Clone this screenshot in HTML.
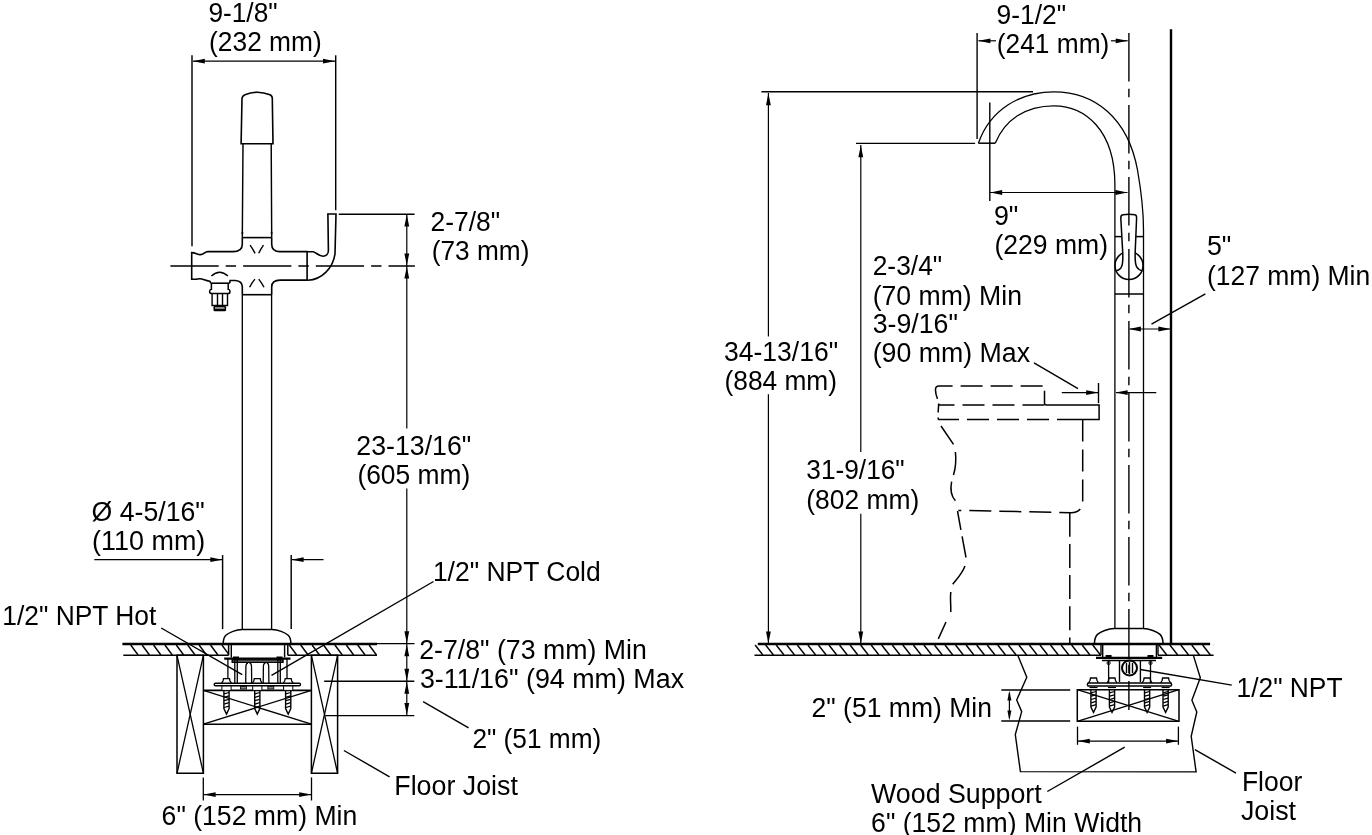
<!DOCTYPE html>
<html><head><meta charset="utf-8"><style>
html,body{margin:0;padding:0;background:#fff;width:1372px;height:835px;overflow:hidden}
svg{display:block}
text{font-family:"Liberation Sans",sans-serif;font-size:26.8px;fill:#000}
svg{will-change:transform}
line,polyline,polygon,path,circle,ellipse,rect{stroke:#000;fill:none}
.f{fill:#000;stroke:none}
</style></head><body>
<svg width="1372" height="835" viewBox="0 0 1372 835">
<line x1="192.00" y1="55.30" x2="192.00" y2="246.30" stroke-width="1.45" />
<line x1="335.70" y1="55.30" x2="335.70" y2="210.20" stroke-width="1.45" />
<line x1="193.00" y1="61.20" x2="335.00" y2="61.20" stroke-width="1.2" />
<polygon class="f" points="192.80,61.20 204.80,58.80 204.80,63.60"/>
<polygon class="f" points="335.00,61.20 323.00,63.60 323.00,58.80"/>
<text x="208.40" y="22.30" textLength="69.19" lengthAdjust="spacingAndGlyphs">9-1/8&quot;</text>
<text x="209.10" y="51.00" textLength="112.63" lengthAdjust="spacingAndGlyphs">(232 mm)</text>
<path d="M241.1,143.7 L242,98.5 Q242.3,95.8 245,94.8 Q257.5,89.6 270,94.8 Q272.3,95.8 272.3,98.5 L273,143.7 Z" stroke-width="1.6" />
<path d="M243,143.7 L242.3,237.6 M271.2,143.7 L271.7,237.6" stroke-width="1.45" />
<line x1="242.30" y1="237.60" x2="271.70" y2="237.60" stroke-width="1.6" />
<ellipse class="f" cx="242.4" cy="233" rx="0.9" ry="1.8"/>
<ellipse class="f" cx="271.6" cy="233" rx="0.9" ry="1.8"/>
<path d="M242.3,237.6 L242.3,244.2 Q242.3,251.6 233,251.6 L208,251.6 C204.5,251.6 204,254.5 200.5,254.6 C197,254.7 196,252.6 191.7,252.6 L191.7,279.3 L196,279.3 C198,278.6 200,278.5 202,279 C205,279.8 207,281 209.9,281.3 Q210.6,281.8 210.6,283.2 M229.7,283.2 L230.1,280.5 L235.4,280.5 Q242.3,281 242.3,287 L242.3,294.7" stroke-width="1.6" />
<path d="M271.7,237.6 L271.7,244.2 Q271.7,251.6 280,251.6 L307.1,251.6 L307.1,280.1 L280,280.1 Q271.7,280.1 271.7,287 L271.7,294.7" stroke-width="1.6" />
<line x1="242.30" y1="294.70" x2="271.70" y2="294.70" stroke-width="1.6" />
<path d="M307.1,251.7 L313.3,251.7 C316,252.5 319,256.2 323,256.2 C326,256.2 328.4,254 328.4,250.6 L327.9,214 L336,214 L335,253.9 C333,268 322,279.5 307.9,280.3" stroke-width="1.6" />
<path d="M250.1,245.1 Q252.5,248.5 255.1,253.3 M263.5,245.1 Q261,248.5 258.7,253.3 M249.6,287.3 Q252,282.5 254.9,279.1 M264,287.3 Q261.5,282.5 258.7,279.1" stroke-width="1.4" />
<path d="M210.6,283.2 L229.7,283.2" stroke-width="1.6" />
<path d="M211.4,283.2 L211.4,289.3 Q209.6,289.5 209.6,291.5 Q209.6,293.6 212,293.6 L228,293.6 Q230,293.6 230,291.5 Q230,289.5 228.2,289.3 L228.2,283.2" stroke-width="1.5" />
<path d="M212.1,293.6 L212.1,305.5 L227.5,305.5 L227.5,293.6 M217.5,293.6 L217.5,305.5 M222.5,293.6 L222.5,305.5" stroke-width="1.4" />
<rect class="f" x="213.5" y="306" width="12.6" height="5.2" rx="1.2"/>
<rect x="215" y="307.2" width="9.6" height="1.6" style="fill:#aaa;stroke:none"/>
<path d="M211.4,276 Q219.6,268.5 227.9,276" stroke-width="1.4" />
<line x1="170.40" y1="265.90" x2="414.90" y2="265.90" stroke-width="1.5" stroke-dasharray="48.3 7 10.4 7"/>
<line x1="242.30" y1="294.70" x2="242.30" y2="629.40" stroke-width="1.35" />
<line x1="271.60" y1="294.70" x2="271.60" y2="629.40" stroke-width="1.35" />
<path d="M242.3,629.4 L271.8,629.4 C278.1,629.6 285.1,632.5 288.2,635.3 C290.1,637.2 290.8,639.5 290.9,643.5 M242.3,629.4 C236,629.6 229,632.5 225.9,635.3 C224,637.2 223.3,639.5 223.2,643.5" stroke-width="1.5" />
<line x1="338.80" y1="214.30" x2="414.60" y2="214.30" stroke-width="1.45" />
<line x1="406.80" y1="214.30" x2="406.80" y2="266.00" stroke-width="1.2" />
<polygon class="f" points="406.80,214.60 409.20,226.60 404.40,226.60"/>
<polygon class="f" points="406.80,265.60 404.40,253.60 409.20,253.60"/>
<text x="430.50" y="231.10" textLength="69.59" lengthAdjust="spacingAndGlyphs">2-7/8&quot;</text>
<text x="431.80" y="260.20" textLength="97.57" lengthAdjust="spacingAndGlyphs">(73 mm)</text>
<line x1="406.80" y1="266.00" x2="406.80" y2="428.60" stroke-width="1.2" />
<line x1="406.80" y1="488.50" x2="406.80" y2="643.80" stroke-width="1.2" />
<polygon class="f" points="406.80,266.50 409.20,278.50 404.40,278.50"/>
<polygon class="f" points="406.80,643.30 404.40,631.30 409.20,631.30"/>
<text x="356.30" y="455.20" textLength="114.97" lengthAdjust="spacingAndGlyphs">23-13/16&quot;</text>
<text x="357.40" y="484.30" textLength="112.83" lengthAdjust="spacingAndGlyphs">(605 mm)</text>
<line x1="406.80" y1="643.80" x2="406.80" y2="715.50" stroke-width="1.2" />
<polygon class="f" points="406.80,644.30 409.20,656.30 404.40,656.30"/>
<polygon class="f" points="406.80,680.70 404.40,668.70 409.20,668.70"/>
<polygon class="f" points="406.80,681.70 409.20,693.70 404.40,693.70"/>
<polygon class="f" points="406.80,715.00 404.40,703.00 409.20,703.00"/>
<line x1="377.00" y1="643.60" x2="414.50" y2="643.60" stroke-width="1.4" />
<line x1="324.20" y1="681.20" x2="414.30" y2="681.20" stroke-width="1.4" />
<line x1="325.20" y1="715.60" x2="414.30" y2="715.60" stroke-width="1.4" />
<text x="419.20" y="658.80" textLength="227.60" lengthAdjust="spacingAndGlyphs">2-7/8&quot; (73 mm) Min</text>
<text x="419.90" y="687.90" textLength="264.22" lengthAdjust="spacingAndGlyphs">3-11/16&quot; (94 mm) Max</text>
<line x1="423.10" y1="701.60" x2="468.60" y2="727.80" stroke-width="1.4" />
<text x="472.40" y="747.90" textLength="128.89" lengthAdjust="spacingAndGlyphs">2&quot; (51 mm)</text>
<line x1="222.60" y1="555.10" x2="222.60" y2="629.10" stroke-width="1.45" />
<line x1="291.20" y1="555.10" x2="291.20" y2="629.10" stroke-width="1.45" />
<line x1="94.30" y1="559.70" x2="222.00" y2="559.70" stroke-width="1.2" />
<polygon class="f" points="222.30,559.70 210.30,562.10 210.30,557.30"/>
<line x1="291.60" y1="559.70" x2="323.50" y2="559.70" stroke-width="1.2" />
<polygon class="f" points="291.60,559.70 303.60,557.30 303.60,562.10"/>
<text x="91.60" y="521.20" textLength="113.20" lengthAdjust="spacingAndGlyphs">Ø 4-5/16&quot;</text>
<text x="92.10" y="549.60" textLength="113.20" lengthAdjust="spacingAndGlyphs">(110 mm)</text>
<text x="2.30" y="624.70" textLength="154.01" lengthAdjust="spacingAndGlyphs">1/2&quot; NPT Hot</text>
<line x1="161.20" y1="628.00" x2="242.20" y2="674.70" stroke-width="1.4" />
<text x="432.90" y="580.50" textLength="167.82" lengthAdjust="spacingAndGlyphs">1/2&quot; NPT Cold</text>
<line x1="433.50" y1="581.50" x2="271.50" y2="675.40" stroke-width="1.4" />
<line x1="122.40" y1="644.00" x2="377.00" y2="644.00" stroke-width="2.5" />
<line x1="123.30" y1="655.30" x2="228.60" y2="655.30" stroke-width="1.5" />
<line x1="287.80" y1="655.30" x2="377.00" y2="655.30" stroke-width="1.5" />
<line x1="228.60" y1="644.00" x2="228.60" y2="655.30" stroke-width="1.5" />
<line x1="287.80" y1="644.00" x2="287.80" y2="655.30" stroke-width="1.5" />
<line x1="130.70" y1="645.00" x2="138.10" y2="655.00" stroke-width="1.4" />
<line x1="142.10" y1="645.00" x2="149.50" y2="655.00" stroke-width="1.4" />
<line x1="153.50" y1="645.00" x2="160.90" y2="655.00" stroke-width="1.4" />
<line x1="164.90" y1="645.00" x2="172.30" y2="655.00" stroke-width="1.4" />
<line x1="176.30" y1="645.00" x2="183.70" y2="655.00" stroke-width="1.4" />
<line x1="187.70" y1="645.00" x2="195.10" y2="655.00" stroke-width="1.4" />
<line x1="199.10" y1="645.00" x2="206.50" y2="655.00" stroke-width="1.4" />
<line x1="210.50" y1="645.00" x2="217.90" y2="655.00" stroke-width="1.4" />
<line x1="221.90" y1="645.00" x2="228.60" y2="654.05" stroke-width="1.4" />
<line x1="289.30" y1="645.00" x2="296.70" y2="655.00" stroke-width="1.4" />
<line x1="300.70" y1="645.00" x2="308.10" y2="655.00" stroke-width="1.4" />
<line x1="312.10" y1="645.00" x2="319.50" y2="655.00" stroke-width="1.4" />
<line x1="323.50" y1="645.00" x2="330.90" y2="655.00" stroke-width="1.4" />
<line x1="334.90" y1="645.00" x2="342.30" y2="655.00" stroke-width="1.4" />
<line x1="346.30" y1="645.00" x2="353.70" y2="655.00" stroke-width="1.4" />
<line x1="357.70" y1="645.00" x2="365.10" y2="655.00" stroke-width="1.4" />
<line x1="369.10" y1="645.00" x2="376.50" y2="655.00" stroke-width="1.4" />
<polygon points="177.00,655.30 203.40,655.30 203.40,773.30 177.00,773.30" stroke-width="1.5" />
<line x1="177.00" y1="655.30" x2="203.40" y2="773.30" stroke-width="1.3" />
<line x1="203.40" y1="655.30" x2="177.00" y2="773.30" stroke-width="1.3" />
<polygon points="311.40,655.30 337.60,655.30 337.60,773.30 311.40,773.30" stroke-width="1.5" />
<line x1="311.40" y1="655.30" x2="337.60" y2="773.30" stroke-width="1.3" />
<line x1="337.60" y1="655.30" x2="311.40" y2="773.30" stroke-width="1.3" />
<line x1="203.40" y1="690.40" x2="311.40" y2="690.40" stroke-width="1.6" />
<line x1="203.40" y1="724.20" x2="311.40" y2="724.20" stroke-width="1.6" />
<line x1="203.40" y1="690.40" x2="311.40" y2="724.20" stroke-width="1.4" />
<line x1="203.40" y1="724.20" x2="311.40" y2="690.40" stroke-width="1.4" />
<line x1="231.30" y1="644.00" x2="231.30" y2="657.50" stroke-width="1.4" />
<line x1="284.60" y1="644.00" x2="284.60" y2="657.50" stroke-width="1.4" />
<line x1="224.20" y1="658.60" x2="290.50" y2="658.60" stroke-width="2.4" />
<rect class="f" x="231.5" y="659.2" width="52.2" height="3.8"/>
<rect x="233" y="660.6" width="49" height="1.0" style="fill:#999;stroke:none"/>
<line x1="234.80" y1="657.00" x2="234.80" y2="683.20" stroke-width="1.3" />
<line x1="237.30" y1="657.00" x2="237.30" y2="683.20" stroke-width="1.3" />
<line x1="277.80" y1="657.00" x2="277.80" y2="683.20" stroke-width="1.3" />
<line x1="280.30" y1="657.00" x2="280.30" y2="683.20" stroke-width="1.3" />
<rect class="f" x="233" y="656.5" width="6" height="3" />
<rect class="f" x="276.5" y="656.5" width="6" height="3" />
<line x1="227.90" y1="658.50" x2="227.90" y2="679.00" stroke-width="1.3" />
<line x1="287.00" y1="658.50" x2="287.00" y2="679.00" stroke-width="1.3" />
<path d="M245.7,683.2 L245.9,666 Q246.3,663 248,663 M251.7,683.2 L251.5,666 Q251.2,663 249.5,663 M263.2,683.2 L263.4,666 Q263.8,663 265.5,663 M268.9,683.2 L268.7,666 Q268.4,663 266.8,663" stroke-width="1.3" />
<path d="M215.5,683.2 L299.2,683.2 Q300.5,683.2 300.5,684.5 Q300.5,685.8 299.2,685.8 L215.5,685.8 Q214.2,685.8 214.2,684.5 Q214.2,683.2 215.5,683.2 Z" stroke-width="1.4" />
<path d="M221.5,683.2 L223.0,681 L223.5,678.6 L229.5,678.6 L230.0,681 L231.5,683.2" stroke-width="1.3" />
<path d="M223.9,690.5 L223.9,708.5 L226.5,714 L229.1,708.5 L229.1,690.5" stroke-width="1.4" />
<line x1="224.10" y1="693.90" x2="228.90" y2="692.50" stroke-width="1.2" />
<line x1="224.10" y1="697.30" x2="228.90" y2="695.90" stroke-width="1.2" />
<line x1="224.10" y1="700.70" x2="228.90" y2="699.30" stroke-width="1.2" />
<line x1="224.10" y1="704.10" x2="228.90" y2="702.70" stroke-width="1.2" />
<line x1="224.10" y1="707.50" x2="228.90" y2="706.10" stroke-width="1.2" />
<path d="M252.3,683.2 L253.8,681 L254.3,678.6 L260.3,678.6 L260.8,681 L262.3,683.2" stroke-width="1.3" />
<path d="M254.70000000000002,690.5 L254.70000000000002,708.5 L257.3,714 L259.90000000000003,708.5 L259.90000000000003,690.5" stroke-width="1.4" />
<line x1="254.90" y1="693.90" x2="259.70" y2="692.50" stroke-width="1.2" />
<line x1="254.90" y1="697.30" x2="259.70" y2="695.90" stroke-width="1.2" />
<line x1="254.90" y1="700.70" x2="259.70" y2="699.30" stroke-width="1.2" />
<line x1="254.90" y1="704.10" x2="259.70" y2="702.70" stroke-width="1.2" />
<line x1="254.90" y1="707.50" x2="259.70" y2="706.10" stroke-width="1.2" />
<path d="M283.2,683.2 L284.7,681 L285.2,678.6 L291.2,678.6 L291.7,681 L293.2,683.2" stroke-width="1.3" />
<path d="M285.59999999999997,690.5 L285.59999999999997,708.5 L288.2,714 L290.8,708.5 L290.8,690.5" stroke-width="1.4" />
<line x1="285.80" y1="693.90" x2="290.60" y2="692.50" stroke-width="1.2" />
<line x1="285.80" y1="697.30" x2="290.60" y2="695.90" stroke-width="1.2" />
<line x1="285.80" y1="700.70" x2="290.60" y2="699.30" stroke-width="1.2" />
<line x1="285.80" y1="704.10" x2="290.60" y2="702.70" stroke-width="1.2" />
<line x1="285.80" y1="707.50" x2="290.60" y2="706.10" stroke-width="1.2" />
<rect x="240.5" y="686.5" width="6" height="2.5" style="fill:#888;stroke:#000;stroke-width:0.8"/>
<rect x="267.8" y="686.5" width="6" height="2.5" style="fill:#888;stroke:#000;stroke-width:0.8"/>
<rect x="221.9" y="686" width="9.2" height="4.4" style="fill:#fff;stroke:#000;stroke-width:1"/>
<rect x="252.70000000000002" y="686" width="9.2" height="4.4" style="fill:#fff;stroke:#000;stroke-width:1"/>
<rect x="283.59999999999997" y="686" width="9.2" height="4.4" style="fill:#fff;stroke:#000;stroke-width:1"/>
<line x1="343.90" y1="750.50" x2="389.60" y2="776.80" stroke-width="1.4" />
<text x="394.30" y="795.30" textLength="123.62" lengthAdjust="spacingAndGlyphs">Floor Joist</text>
<line x1="203.30" y1="777.40" x2="203.30" y2="800.50" stroke-width="1.3" />
<line x1="311.50" y1="777.40" x2="311.50" y2="800.50" stroke-width="1.3" />
<line x1="204.00" y1="794.60" x2="311.00" y2="794.60" stroke-width="1.2" />
<polygon class="f" points="203.60,794.60 215.60,792.20 215.60,797.00"/>
<polygon class="f" points="311.20,794.60 299.20,797.00 299.20,792.20"/>
<text x="161.60" y="824.60" textLength="195.66" lengthAdjust="spacingAndGlyphs">6&quot; (152 mm) Min</text>
<text x="996.60" y="24.20" textLength="69.49" lengthAdjust="spacingAndGlyphs">9-1/2&quot;</text>
<text x="996.80" y="53.00" textLength="112.53" lengthAdjust="spacingAndGlyphs">(241 mm)</text>
<line x1="977.10" y1="33.10" x2="977.10" y2="139.00" stroke-width="1.4" />
<line x1="978.40" y1="40.80" x2="996.00" y2="40.80" stroke-width="1.2" />
<polygon class="f" points="978.40,40.80 990.40,38.40 990.40,43.20"/>
<line x1="1110.90" y1="40.80" x2="1127.70" y2="40.80" stroke-width="1.2" />
<polygon class="f" points="1127.70,40.80 1115.70,43.20 1115.70,38.40"/>
<line x1="1171.00" y1="29.20" x2="1171.00" y2="644.00" stroke-width="2.4" />
<line x1="761.40" y1="91.70" x2="1033.00" y2="91.70" stroke-width="1.4" />
<line x1="856.00" y1="143.40" x2="975.10" y2="143.40" stroke-width="1.4" />
<line x1="768.40" y1="93.00" x2="768.40" y2="336.40" stroke-width="1.2" />
<line x1="768.40" y1="394.20" x2="768.40" y2="644.00" stroke-width="1.2" />
<polygon class="f" points="768.40,93.30 770.80,105.30 766.00,105.30"/>
<polygon class="f" points="768.40,643.50 766.00,631.50 770.80,631.50"/>
<text x="724.00" y="360.80" textLength="114.07" lengthAdjust="spacingAndGlyphs">34-13/16&quot;</text>
<text x="724.50" y="389.70" textLength="112.53" lengthAdjust="spacingAndGlyphs">(884 mm)</text>
<line x1="860.80" y1="145.00" x2="860.80" y2="452.00" stroke-width="1.2" />
<line x1="860.80" y1="513.70" x2="860.80" y2="644.00" stroke-width="1.2" />
<polygon class="f" points="860.80,145.20 863.20,157.20 858.40,157.20"/>
<polygon class="f" points="860.80,643.50 858.40,631.50 863.20,631.50"/>
<text x="806.30" y="479.00" textLength="98.41" lengthAdjust="spacingAndGlyphs">31-9/16&quot;</text>
<text x="806.30" y="508.50" textLength="113.13" lengthAdjust="spacingAndGlyphs">(802 mm)</text>
<text x="872.70" y="275.30" textLength="69.49" lengthAdjust="spacingAndGlyphs">2-3/4&quot;</text>
<text x="872.70" y="304.50" textLength="149.29" lengthAdjust="spacingAndGlyphs">(70 mm) Min</text>
<text x="872.70" y="333.00" textLength="85.25" lengthAdjust="spacingAndGlyphs">3-9/16&quot;</text>
<text x="872.70" y="362.20" textLength="157.41" lengthAdjust="spacingAndGlyphs">(90 mm) Max</text>
<line x1="989.80" y1="102.50" x2="989.80" y2="201.00" stroke-width="1.4" />
<line x1="990.00" y1="192.50" x2="1127.50" y2="192.50" stroke-width="1.2" />
<polygon class="f" points="990.20,192.50 1002.20,190.10 1002.20,194.90"/>
<polygon class="f" points="1127.40,192.50 1115.40,194.90 1115.40,190.10"/>
<text x="993.90" y="224.50" textLength="24.42" lengthAdjust="spacingAndGlyphs">9&quot;</text>
<text x="994.50" y="253.60" textLength="113.53" lengthAdjust="spacingAndGlyphs">(229 mm)</text>
<path d="M978.4,143.2 C990,110 1020,91.8 1053.9,91.8 C1095,91.8 1128,118 1137.5,170 C1141,190 1143.5,210 1143.5,230 L1143.5,628.5" stroke-width="1.3" />
<path d="M995.2,143.2 C1005,120 1025,105.8 1053.9,105.8 C1085,105.8 1114.9,130 1114.9,185 L1114.9,628.5" stroke-width="1.3" />
<line x1="978.40" y1="143.20" x2="995.20" y2="143.20" stroke-width="1.5" />
<circle cx="1129" cy="265.5" r="14" stroke-width="1.5"/>
<line x1="1114.90" y1="236.60" x2="1143.30" y2="236.60" stroke-width="1.5" />
<line x1="1114.90" y1="294.00" x2="1143.50" y2="294.00" stroke-width="1.5" />
<path d="M1120.8,218 Q1120.8,215 1123,214.8 Q1129,213.6 1135,214.8 Q1136.6,215 1136.6,218 L1135.2,251.9 C1135,258 1135.2,264 1136.5,266.5 C1138,269.5 1140.5,270.5 1142.4,271.1 L1115.5,271.1 C1118,270.5 1120.5,269.5 1121.6,266.5 C1122.8,264 1123,258 1122.7,251.9 Z" stroke-width="1.5" style="fill:#fff;stroke:none"/>
<path d="M1120.8,218 Q1120.8,215 1123,214.8 Q1129,213.6 1135,214.8 Q1136.6,215 1136.6,218 L1135.2,251.9 C1135,258 1135.2,264 1136.5,266.5 C1138,269.5 1140.5,270.5 1142.4,271.1 M1115.5,271.1 C1118,270.5 1120.5,269.5 1121.6,266.5 C1122.8,264 1123,258 1122.7,251.9 L1120.8,218" stroke-width="1.5" />
<line x1="1128.90" y1="33.00" x2="1128.90" y2="710.00" stroke-width="1.4" stroke-dasharray="48.5 7.2 8.6 7.7"/>
<line x1="1129.50" y1="329.00" x2="1170.00" y2="329.00" stroke-width="1.2" />
<polygon class="f" points="1128.90,329.00 1140.90,326.60 1140.90,331.40"/>
<polygon class="f" points="1170.40,329.00 1158.40,331.40 1158.40,326.60"/>
<line x1="1205.40" y1="293.80" x2="1151.50" y2="324.20" stroke-width="1.4" />
<text x="1206.90" y="255.00" textLength="24.42" lengthAdjust="spacingAndGlyphs">5&quot;</text>
<text x="1206.90" y="285.00" textLength="163.35" lengthAdjust="spacingAndGlyphs">(127 mm) Min</text>
<line x1="1061.80" y1="392.60" x2="1098.00" y2="392.60" stroke-width="1.2" />
<polygon class="f" points="1098.20,392.60 1086.20,395.00 1086.20,390.20"/>
<line x1="1098.50" y1="383.00" x2="1098.50" y2="403.10" stroke-width="1.4" />
<line x1="1116.00" y1="392.60" x2="1156.30" y2="392.60" stroke-width="1.2" />
<polygon class="f" points="1115.60,392.60 1127.60,390.20 1127.60,395.00"/>
<line x1="1034.00" y1="362.90" x2="1078.00" y2="388.70" stroke-width="1.4" />
<path d="M1042.6,385.9 L939,385.9 Q935.3,385.9 935.5,390" stroke-width="1.5" stroke-dasharray="22 8"/>
<path d="M935.5,390 C935.5,396 938,399 938.5,402 C939,405 938.2,408 938.2,412 L938.2,419.4" stroke-width="1.5" stroke-dasharray="9 5"/>
<path d="M1044.5,390.7 L1044.5,403 Q1044.5,405 1046.5,405 L1099.1,405 L1099.1,419.4 L1079,419.4" stroke-width="1.5" />
<path d="M1044.5,405 L938.2,405" stroke-width="1.5" stroke-dasharray="22 8"/>
<path d="M1079,419.4 L938.2,419.4" stroke-width="1.5" stroke-dasharray="22 8"/>
<path d="M1082.7,419.4 L1082.7,500 Q1082.7,512.7 1071,512.7 L958.3,510.4" stroke-width="1.5" stroke-dasharray="22 8"/>
<path d="M941,426 L953.5,444.3 M955.4,452 C956.5,462 955,470 953.5,475 M951.6,481.6 C950,490 951,496 955.4,500.8" stroke-width="1.5" />
<path d="M1069.8,512.7 L1069.8,643.5" stroke-width="1.5" stroke-dasharray="24 7.2"/>
<path d="M957.5,511 L960.9,529.8 M962.1,536.4 L966,557.5 M965,566 C962,574 956,580 952.7,584.3 M950.8,592 C950,598 951,605 950.8,612 M946,622 L938.3,638.9" stroke-width="1.5" />
<line x1="757.80" y1="644.10" x2="1210.10" y2="644.10" stroke-width="2.5" />
<line x1="754.50" y1="655.30" x2="1101.00" y2="655.30" stroke-width="1.5" />
<line x1="1158.00" y1="655.30" x2="1213.60" y2="655.30" stroke-width="1.5" />
<line x1="1101.00" y1="644.00" x2="1101.00" y2="655.30" stroke-width="1.4" />
<line x1="1158.00" y1="644.00" x2="1158.00" y2="655.30" stroke-width="1.4" />
<line x1="755.10" y1="645.00" x2="762.90" y2="655.00" stroke-width="1.4" />
<line x1="765.65" y1="645.00" x2="773.45" y2="655.00" stroke-width="1.4" />
<line x1="776.20" y1="645.00" x2="784.00" y2="655.00" stroke-width="1.4" />
<line x1="786.75" y1="645.00" x2="794.55" y2="655.00" stroke-width="1.4" />
<line x1="797.30" y1="645.00" x2="805.10" y2="655.00" stroke-width="1.4" />
<line x1="807.85" y1="645.00" x2="815.65" y2="655.00" stroke-width="1.4" />
<line x1="818.40" y1="645.00" x2="826.20" y2="655.00" stroke-width="1.4" />
<line x1="828.95" y1="645.00" x2="836.75" y2="655.00" stroke-width="1.4" />
<line x1="839.50" y1="645.00" x2="847.30" y2="655.00" stroke-width="1.4" />
<line x1="850.05" y1="645.00" x2="857.85" y2="655.00" stroke-width="1.4" />
<line x1="860.60" y1="645.00" x2="868.40" y2="655.00" stroke-width="1.4" />
<line x1="871.15" y1="645.00" x2="878.95" y2="655.00" stroke-width="1.4" />
<line x1="881.70" y1="645.00" x2="889.50" y2="655.00" stroke-width="1.4" />
<line x1="892.25" y1="645.00" x2="900.05" y2="655.00" stroke-width="1.4" />
<line x1="902.80" y1="645.00" x2="910.60" y2="655.00" stroke-width="1.4" />
<line x1="913.35" y1="645.00" x2="921.15" y2="655.00" stroke-width="1.4" />
<line x1="923.90" y1="645.00" x2="931.70" y2="655.00" stroke-width="1.4" />
<line x1="934.45" y1="645.00" x2="942.25" y2="655.00" stroke-width="1.4" />
<line x1="945.00" y1="645.00" x2="952.80" y2="655.00" stroke-width="1.4" />
<line x1="955.55" y1="645.00" x2="963.35" y2="655.00" stroke-width="1.4" />
<line x1="966.10" y1="645.00" x2="973.90" y2="655.00" stroke-width="1.4" />
<line x1="976.65" y1="645.00" x2="984.45" y2="655.00" stroke-width="1.4" />
<line x1="987.20" y1="645.00" x2="995.00" y2="655.00" stroke-width="1.4" />
<line x1="997.75" y1="645.00" x2="1005.55" y2="655.00" stroke-width="1.4" />
<line x1="1008.30" y1="645.00" x2="1016.10" y2="655.00" stroke-width="1.4" />
<line x1="1018.85" y1="645.00" x2="1026.65" y2="655.00" stroke-width="1.4" />
<line x1="1029.40" y1="645.00" x2="1037.20" y2="655.00" stroke-width="1.4" />
<line x1="1039.95" y1="645.00" x2="1047.75" y2="655.00" stroke-width="1.4" />
<line x1="1050.50" y1="645.00" x2="1058.30" y2="655.00" stroke-width="1.4" />
<line x1="1061.05" y1="645.00" x2="1068.85" y2="655.00" stroke-width="1.4" />
<line x1="1071.60" y1="645.00" x2="1079.40" y2="655.00" stroke-width="1.4" />
<line x1="1082.15" y1="645.00" x2="1089.95" y2="655.00" stroke-width="1.4" />
<line x1="1092.70" y1="645.00" x2="1100.50" y2="655.00" stroke-width="1.4" />
<line x1="1159.00" y1="645.00" x2="1166.80" y2="655.00" stroke-width="1.4" />
<line x1="1169.90" y1="645.00" x2="1177.70" y2="655.00" stroke-width="1.4" />
<line x1="1180.80" y1="645.00" x2="1188.60" y2="655.00" stroke-width="1.4" />
<line x1="1191.70" y1="645.00" x2="1199.50" y2="655.00" stroke-width="1.4" />
<line x1="1202.60" y1="645.00" x2="1210.40" y2="655.00" stroke-width="1.4" />
<line x1="1213.50" y1="645.00" x2="1213.60" y2="645.13" stroke-width="1.4" />
<path d="M1114.5,628.5 L1143,628.5 C1149.5,628.7 1157,631.6 1160,634.4 C1161.9,636.3 1162.9,638.6 1163.1,643.5 M1114.5,628.5 C1108,628.7 1100.5,631.6 1097.5,634.4 C1095.6,636.3 1094.6,638.6 1094.4,643.5" stroke-width="1.5" />
<line x1="1102.70" y1="644.00" x2="1102.70" y2="657.00" stroke-width="1.4" />
<line x1="1156.40" y1="644.00" x2="1156.40" y2="657.00" stroke-width="1.4" />
<line x1="1096.00" y1="657.80" x2="1162.20" y2="657.80" stroke-width="2.2" />
<line x1="1102.00" y1="660.50" x2="1156.00" y2="660.50" stroke-width="1.4" />
<line x1="1108.60" y1="660.00" x2="1108.60" y2="683.00" stroke-width="1.3" />
<rect class="f" x="1105.6" y="655" width="6" height="3"/>
<circle cx="1108.6" cy="663" r="1.6" stroke-width="1"/>
<line x1="1150.50" y1="660.00" x2="1150.50" y2="683.00" stroke-width="1.3" />
<rect class="f" x="1147.5" y="655" width="6" height="3"/>
<circle cx="1150.5" cy="663" r="1.6" stroke-width="1"/>
<path d="M1119.5,660.5 L1119.5,682.1 M1140.4,660.5 L1140.4,682.1" stroke-width="1.4" />
<circle cx="1129.5" cy="667.9" r="7.5" stroke-width="2"/>
<path d="M1126.5,663 L1126.5,673 M1129.5,662 L1129.5,674 M1132.5,663 L1132.5,673" stroke-width="1.4" />
<path d="M1088,683 L1171,683 Q1172.3,684.5 1171,686 L1088,686 Q1086.7,684.5 1088,683 Z" stroke-width="1.5" />
<path d="M1088.5,683 L1090.0,680.5 L1090.5,678 L1096.5,678 L1097.0,680.5 L1098.5,683" stroke-width="1.3" />
<path d="M1090.9,689.7 L1090.9,707 L1093.5,712.3 L1096.1,707 L1096.1,689.7" stroke-width="1.4" />
<line x1="1091.10" y1="692.90" x2="1095.90" y2="691.50" stroke-width="1.2" />
<line x1="1091.10" y1="696.20" x2="1095.90" y2="694.80" stroke-width="1.2" />
<line x1="1091.10" y1="699.50" x2="1095.90" y2="698.10" stroke-width="1.2" />
<line x1="1091.10" y1="702.80" x2="1095.90" y2="701.40" stroke-width="1.2" />
<line x1="1091.10" y1="706.10" x2="1095.90" y2="704.70" stroke-width="1.2" />
<line x1="1089.50" y1="687.50" x2="1097.50" y2="687.50" stroke-width="1.2" />
<path d="M1107,683 L1108.5,680.5 L1109,678 L1115,678 L1115.5,680.5 L1117,683" stroke-width="1.3" />
<path d="M1109.4,689.7 L1109.4,707 L1112,712.3 L1114.6,707 L1114.6,689.7" stroke-width="1.4" />
<line x1="1109.60" y1="692.90" x2="1114.40" y2="691.50" stroke-width="1.2" />
<line x1="1109.60" y1="696.20" x2="1114.40" y2="694.80" stroke-width="1.2" />
<line x1="1109.60" y1="699.50" x2="1114.40" y2="698.10" stroke-width="1.2" />
<line x1="1109.60" y1="702.80" x2="1114.40" y2="701.40" stroke-width="1.2" />
<line x1="1109.60" y1="706.10" x2="1114.40" y2="704.70" stroke-width="1.2" />
<line x1="1108.00" y1="687.50" x2="1116.00" y2="687.50" stroke-width="1.2" />
<path d="M1142.1,683 L1143.6,680.5 L1144.1,678 L1150.1,678 L1150.6,680.5 L1152.1,683" stroke-width="1.3" />
<path d="M1144.5,689.7 L1144.5,707 L1147.1,712.3 L1149.6999999999998,707 L1149.6999999999998,689.7" stroke-width="1.4" />
<line x1="1144.70" y1="692.90" x2="1149.50" y2="691.50" stroke-width="1.2" />
<line x1="1144.70" y1="696.20" x2="1149.50" y2="694.80" stroke-width="1.2" />
<line x1="1144.70" y1="699.50" x2="1149.50" y2="698.10" stroke-width="1.2" />
<line x1="1144.70" y1="702.80" x2="1149.50" y2="701.40" stroke-width="1.2" />
<line x1="1144.70" y1="706.10" x2="1149.50" y2="704.70" stroke-width="1.2" />
<line x1="1143.10" y1="687.50" x2="1151.10" y2="687.50" stroke-width="1.2" />
<path d="M1160.6,683 L1162.1,680.5 L1162.6,678 L1168.6,678 L1169.1,680.5 L1170.6,683" stroke-width="1.3" />
<path d="M1163.0,689.7 L1163.0,707 L1165.6,712.3 L1168.1999999999998,707 L1168.1999999999998,689.7" stroke-width="1.4" />
<line x1="1163.20" y1="692.90" x2="1168.00" y2="691.50" stroke-width="1.2" />
<line x1="1163.20" y1="696.20" x2="1168.00" y2="694.80" stroke-width="1.2" />
<line x1="1163.20" y1="699.50" x2="1168.00" y2="698.10" stroke-width="1.2" />
<line x1="1163.20" y1="702.80" x2="1168.00" y2="701.40" stroke-width="1.2" />
<line x1="1163.20" y1="706.10" x2="1168.00" y2="704.70" stroke-width="1.2" />
<line x1="1161.60" y1="687.50" x2="1169.60" y2="687.50" stroke-width="1.2" />
<polygon points="1077.30,689.70 1179.00,689.70 1179.00,721.30 1077.30,721.30" stroke-width="1.5" />
<line x1="1077.30" y1="689.70" x2="1179.00" y2="721.30" stroke-width="1.3" />
<line x1="1077.30" y1="721.30" x2="1179.00" y2="689.70" stroke-width="1.3" />
<line x1="1001.30" y1="690.00" x2="1070.20" y2="690.00" stroke-width="1.4" />
<line x1="1001.30" y1="721.00" x2="1070.20" y2="721.00" stroke-width="1.4" />
<line x1="1009.40" y1="693.00" x2="1009.40" y2="718.00" stroke-width="1.2" />
<polygon class="f" points="1009.40,690.50 1011.40,700.50 1007.40,700.50"/>
<polygon class="f" points="1009.40,720.50 1007.40,710.50 1011.40,710.50"/>
<text x="811.60" y="717.00" textLength="180.30" lengthAdjust="spacingAndGlyphs">2&quot; (51 mm) Min</text>
<polyline points="1017.90,655.50 1026.80,677.20 1016.70,700.00 1021.70,711.60 1015.30,734.60 1020.40,771.60 1196.10,771.90 1191.20,736.30 1196.80,712.00 1191.90,700.20 1200.30,677.80 1193.30,655.10" stroke-width="1.4" />
<line x1="1077.50" y1="726.60" x2="1077.50" y2="744.80" stroke-width="1.3" />
<line x1="1178.40" y1="726.60" x2="1178.40" y2="744.80" stroke-width="1.3" />
<line x1="1078.00" y1="741.10" x2="1178.00" y2="741.10" stroke-width="1.2" />
<polygon class="f" points="1077.80,741.10 1089.80,738.70 1089.80,743.50"/>
<polygon class="f" points="1178.10,741.10 1166.10,743.50 1166.10,738.70"/>
<line x1="1047.30" y1="791.50" x2="1124.70" y2="747.20" stroke-width="1.4" />
<text x="871.10" y="802.50" textLength="170.63" lengthAdjust="spacingAndGlyphs">Wood Support</text>
<text x="871.10" y="832.00" textLength="271.05" lengthAdjust="spacingAndGlyphs">6&quot; (152 mm) Min Width</text>
<line x1="1194.90" y1="749.60" x2="1236.00" y2="773.10" stroke-width="1.4" />
<text x="1241.90" y="791.00" textLength="60.34" lengthAdjust="spacingAndGlyphs">Floor</text>
<text x="1240.90" y="820.10" textLength="55.10" lengthAdjust="spacingAndGlyphs">Joist</text>
<line x1="1140.40" y1="669.50" x2="1231.80" y2="685.10" stroke-width="1.4" />
<text x="1236.50" y="697.00" textLength="106.00" lengthAdjust="spacingAndGlyphs">1/2&quot; NPT</text>
</svg></body></html>
